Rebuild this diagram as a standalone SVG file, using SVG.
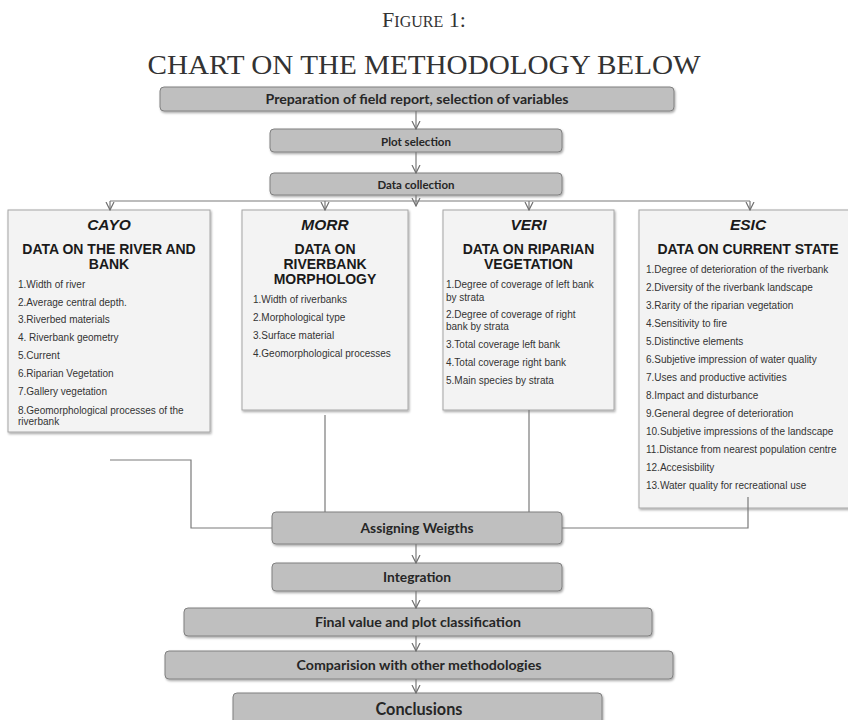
<svg xmlns="http://www.w3.org/2000/svg" width="848" height="720" viewBox="0 0 848 720">
<defs>
<filter id="sh" x="-5%" y="-10%" width="110%" height="130%"><feDropShadow dx="1" dy="1.5" stdDeviation="1" flood-color="#000" flood-opacity="0.35"/></filter>
<marker id="ah" markerWidth="9" markerHeight="10" refX="8" refY="4.5" orient="auto" markerUnits="userSpaceOnUse"><path d="M0,0.5 L8,4.5 L0,8.5" fill="none" stroke="#707070" stroke-width="1.2"/></marker>
</defs>
<style>
.box{fill:#bfbfbf;stroke:#808080;stroke-width:1;filter:url(#sh)}
.card{fill:#f3f3f3;stroke:#a6a6a6;stroke-width:1;filter:url(#sh)}
.bt{font-family:Lato,'Open Sans',sans-serif;font-weight:bold;fill:#262626;text-anchor:middle}
.ch{font-family:'Liberation Sans',Arial,sans-serif;font-weight:bold;fill:#1a1a1a;text-anchor:middle;font-size:14px}
.ci{font-family:'Liberation Sans',Arial,sans-serif;font-weight:bold;font-style:italic;fill:#1a1a1a;text-anchor:middle;font-size:15.5px}
.it{font-family:'Liberation Sans',Arial,sans-serif;font-size:10px;fill:#333}
.ln{stroke:#7a7a7a;stroke-width:1.2;fill:none}
.ttl{font-family:'Liberation Serif','Times New Roman',serif;fill:#333;text-anchor:middle}
</style>
<g id="title">
<text class="ttl" x="424" y="27" font-size="22">F<tspan font-size="16">IGURE</tspan> 1:</text>
<text class="ttl" x="424" y="74" font-size="28" textLength="553" lengthAdjust="spacingAndGlyphs">CHART ON THE METHODOLOGY BELOW</text>
</g>
<g id="n-prep"><rect class="box" x="160" y="87" width="514" height="24" rx="4"/><text class="bt" x="417" y="103.5" font-size="13" textLength="303" lengthAdjust="spacingAndGlyphs">Preparation of field report, selection of variables</text></g>
<g id="n-plot"><rect class="box" x="270" y="129" width="292" height="23" rx="4"/><text class="bt" x="416" y="145.5" font-size="11.5" textLength="70" lengthAdjust="spacingAndGlyphs">Plot selection</text></g>
<g id="n-data"><rect class="box" x="270" y="173" width="292" height="22" rx="4"/><text class="bt" x="416" y="188.5" font-size="11.5" textLength="77" lengthAdjust="spacingAndGlyphs">Data collection</text></g>
<g id="n-cayo"><rect class="card" x="8" y="210" width="202" height="222"/>
<text class="ci" x="109" y="229.5">CAYO</text>
<text class="ch" x="109" y="254">DATA ON THE RIVER AND</text>
<text class="ch" x="109" y="269">BANK</text>
<text class="it" x="18" y="287.5">1.Width of river</text>
<text class="it" x="18" y="305.5">2.Average central depth.</text>
<text class="it" x="18" y="323">3.Riverbed materials</text>
<text class="it" x="18" y="341">4. Riverbank geometry</text>
<text class="it" x="18" y="359">5.Current</text>
<text class="it" x="18" y="377">6.Riparian Vegetation</text>
<text class="it" x="18" y="395">7.Gallery vegetation</text>
<text class="it" x="18" y="413.5">8.Geomorphological processes of the</text>
<text class="it" x="18" y="424.5">riverbank</text>
</g>
<g id="n-morr"><rect class="card" x="242" y="210" width="166" height="200"/>
<text class="ci" x="325" y="229.5">MORR</text>
<text class="ch" x="325" y="254">DATA ON</text>
<text class="ch" x="325" y="269">RIVERBANK</text>
<text class="ch" x="325" y="284">MORPHOLOGY</text>
<text class="it" x="253" y="302.5">1.Width of riverbanks</text>
<text class="it" x="253" y="320.5">2.Morphological type</text>
<text class="it" x="253" y="338.5">3.Surface material</text>
<text class="it" x="253" y="356.5">4.Geomorphological processes</text>
</g>
<g id="n-veri"><rect class="card" x="443" y="210" width="171" height="200"/>
<text class="ci" x="528.5" y="229.5">VERI</text>
<text class="ch" x="528.5" y="254">DATA ON RIPARIAN</text>
<text class="ch" x="528.5" y="269">VEGETATION</text>
<text class="it" x="446" y="287.5">1.Degree of coverage of left bank</text>
<text class="it" x="446" y="300.5">by strata</text>
<text class="it" x="446" y="317.5">2.Degree of coverage of right</text>
<text class="it" x="446" y="329.5">bank by strata</text>
<text class="it" x="446" y="347.5">3.Total coverage left bank</text>
<text class="it" x="446" y="365.5">4.Total coverage right bank</text>
<text class="it" x="446" y="383.5">5.Main species by strata</text>
</g>
<g id="n-esic"><rect class="card" x="639" y="210" width="220" height="298"/>
<text class="ci" x="748" y="229.5">ESIC</text>
<text class="ch" x="748" y="254">DATA ON CURRENT STATE</text>
<text class="it" x="646" y="272.5">1.Degree of deterioration of the riverbank</text>
<text class="it" x="646" y="290.5">2.Diversity of the riverbank landscape</text>
<text class="it" x="646" y="308.5">3.Rarity of the riparian vegetation</text>
<text class="it" x="646" y="326.5">4.Sensitivity to fire</text>
<text class="it" x="646" y="344.5">5.Distinctive elements</text>
<text class="it" x="646" y="362.5">6.Subjetive impression of water quality</text>
<text class="it" x="646" y="380.5">7.Uses and productive activities</text>
<text class="it" x="646" y="398.5">8.Impact and disturbance</text>
<text class="it" x="646" y="416.5">9.General degree of deterioration</text>
<text class="it" x="646" y="434.5">10.Subjetive impressions of the landscape</text>
<text class="it" x="646" y="452.5">11.Distance from nearest population centre</text>
<text class="it" x="646" y="470.5">12.Accesisbility</text>
<text class="it" x="646" y="488.5">13.Water quality for recreational use</text>
</g>
<g id="n-assign"><rect class="box" x="272" y="512" width="290" height="32" rx="4"/><text class="bt" x="417" y="532.5" font-size="13.5" textLength="113" lengthAdjust="spacingAndGlyphs">Assigning Weigths</text></g>
<g id="n-integ"><rect class="box" x="272" y="563" width="290" height="28" rx="4"/><text class="bt" x="417" y="581.5" font-size="13.5" textLength="68" lengthAdjust="spacingAndGlyphs">Integration</text></g>
<g id="n-final"><rect class="box" x="184" y="608" width="468" height="28" rx="4"/><text class="bt" x="418" y="626.5" font-size="13" textLength="206" lengthAdjust="spacingAndGlyphs">Final value and plot classification</text></g>
<g id="n-comp"><rect class="box" x="165" y="651" width="508" height="28" rx="4"/><text class="bt" x="419" y="669.5" font-size="13" textLength="245" lengthAdjust="spacingAndGlyphs">Comparision with other methodologies</text></g>
<g id="n-concl"><rect class="box" x="233" y="693" width="369" height="40" rx="4"/><text class="bt" x="419" y="715" font-size="16.5" textLength="87" lengthAdjust="spacingAndGlyphs">Conclusions</text></g>
<g id="connectors">
<line class="ln" x1="416" y1="111" x2="416" y2="129" marker-end="url(#ah)"/>
<line class="ln" x1="416" y1="152" x2="416" y2="173" marker-end="url(#ah)"/>
<line class="ln" x1="416" y1="195" x2="416" y2="206" marker-end="url(#ah)"/>
<line class="ln" x1="110" y1="201" x2="750" y2="201"/>
<line class="ln" x1="110" y1="201" x2="110" y2="210" marker-end="url(#ah)"/>
<line class="ln" x1="325" y1="201" x2="325" y2="210" marker-end="url(#ah)"/>
<line class="ln" x1="529" y1="201" x2="529" y2="210" marker-end="url(#ah)"/>
<line class="ln" x1="750" y1="201" x2="750" y2="210" marker-end="url(#ah)"/>
<polyline class="ln" points="110,460 191,460 191,528 272,528"/>
<line class="ln" x1="325" y1="415" x2="325" y2="512"/>
<line class="ln" x1="529" y1="410" x2="529" y2="512"/>
<polyline class="ln" points="748,497 748,528 562,528"/>
<line class="ln" x1="416" y1="544" x2="416" y2="563" marker-end="url(#ah)"/>
<line class="ln" x1="416" y1="591" x2="416" y2="608" marker-end="url(#ah)"/>
<line class="ln" x1="416" y1="636" x2="416" y2="651" marker-end="url(#ah)"/>
<line class="ln" x1="416" y1="679" x2="416" y2="693" marker-end="url(#ah)"/>
</g>
</svg>
